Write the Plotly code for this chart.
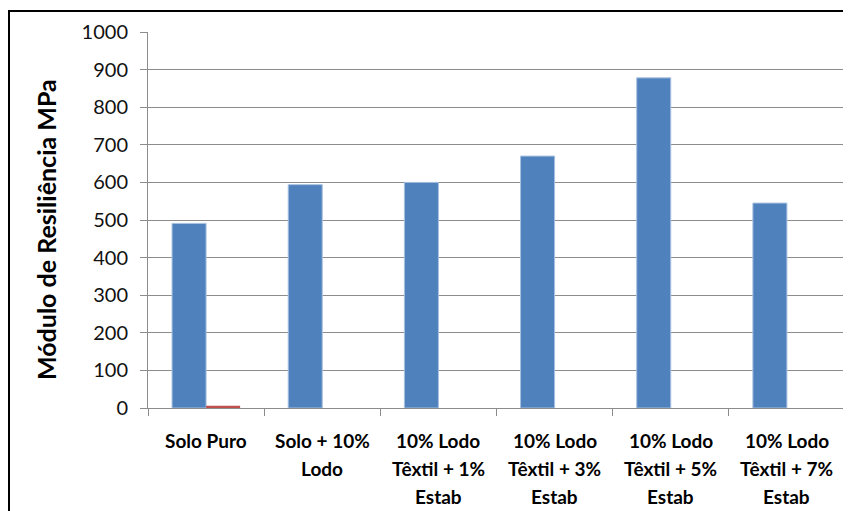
import plotly.graph_objects as go

categories = ["Solo Puro", "Solo + 10% Lodo", "10% Lodo Têxtil + 1% Estab",
              "10% Lodo Têxtil + 3% Estab", "10% Lodo Têxtil + 5% Estab",
              "10% Lodo Têxtil + 7% Estab"]
label_lines = [["Solo Puro"], ["Solo + 10%", "Lodo"],
               ["10% Lodo", "Têxtil + 1%", "Estab"],
               ["10% Lodo", "Têxtil + 3%", "Estab"],
               ["10% Lodo", "Têxtil + 5%", "Estab"],
               ["10% Lodo", "Têxtil + 7%", "Estab"]]
series_a = [491, 594, 600, 670, 878, 545]
series_b = [6, 0, 0, 0, 0, 0]
y_ticks = [0, 100, 200, 300, 400, 500, 600, 700, 800, 900, 1000]

# page body has an 8px offset; compensate so plot lands at screen coords
OFF = 8
W, H = 851 - OFF, 511 - OFF
L, T = 148 - OFF, 32 - OFF
pw, ph = 697, 376
R = W - L - pw
B = H - T - ph

fig = go.Figure()
fig.add_trace(go.Bar(x=categories, y=series_a, marker=dict(color="#4F81BD", line=dict(color="#A9C1E0", width=1))))
fig.add_trace(go.Bar(x=categories, y=series_b, marker=dict(color="#C0504D", line=dict(width=0))))

grid = "#8C8C8C"
fig.update_layout(
    width=W, height=H, margin=dict(l=L, r=R, t=T, b=B),
    paper_bgcolor="white", plot_bgcolor="white",
    barmode="group", bargap=0.414, bargroupgap=0,
    showlegend=False,
    font=dict(family="Lato, Calibri, sans-serif", color="#000000"),
)
fig.update_yaxes(range=[0, 1000], tickvals=y_ticks, showgrid=True, gridcolor=grid, gridwidth=1,
                 showline=True, linecolor=grid, linewidth=1, ticks="outside", ticklen=7,
                 tickcolor=grid, tickfont=dict(size=20, family="Lato, sans-serif", color="#111"),
                 ticklabelstandoff=8, zeroline=False)
fig.update_xaxes(showticklabels=False, showline=True, linecolor=grid, linewidth=1,
                 ticks="outside", ticklen=7, tickcolor=grid, tickson="boundaries")

annotations = []
for cat, lines in zip(categories, label_lines):
    for i, ln in enumerate(lines):
        annotations.append(dict(x=cat, xref="x", y=0, yref="paper", text="<b>" + ln + "</b>",
                                showarrow=False, yanchor="middle", xanchor="center",
                                yshift=-(32 + 28 * i),
                                font=dict(size=19, family="Lato, sans-serif", color="#000")))
annotations.append(dict(x=(46 - 148) / pw, xref="paper", y=(408 - 230) / ph, yref="paper",
                        text="<b>Módulo de Resiliência MPa</b>", textangle=-90, showarrow=False,
                        xanchor="center", yanchor="middle",
                        font=dict(size=25, family="Lato, sans-serif", color="#000", weight=900)))
fig.update_layout(annotations=annotations)

fig.add_shape(type="rect", xref="paper", yref="paper",
              x0=(9 - 148) / pw, x1=(851 + 20 - 148) / pw,
              y0=-(511 + 20 - 408) / ph, y1=1 + (32 - 11) / ph,
              line=dict(color="#000", width=2), layer="below")

fig.write_html("out.html")
